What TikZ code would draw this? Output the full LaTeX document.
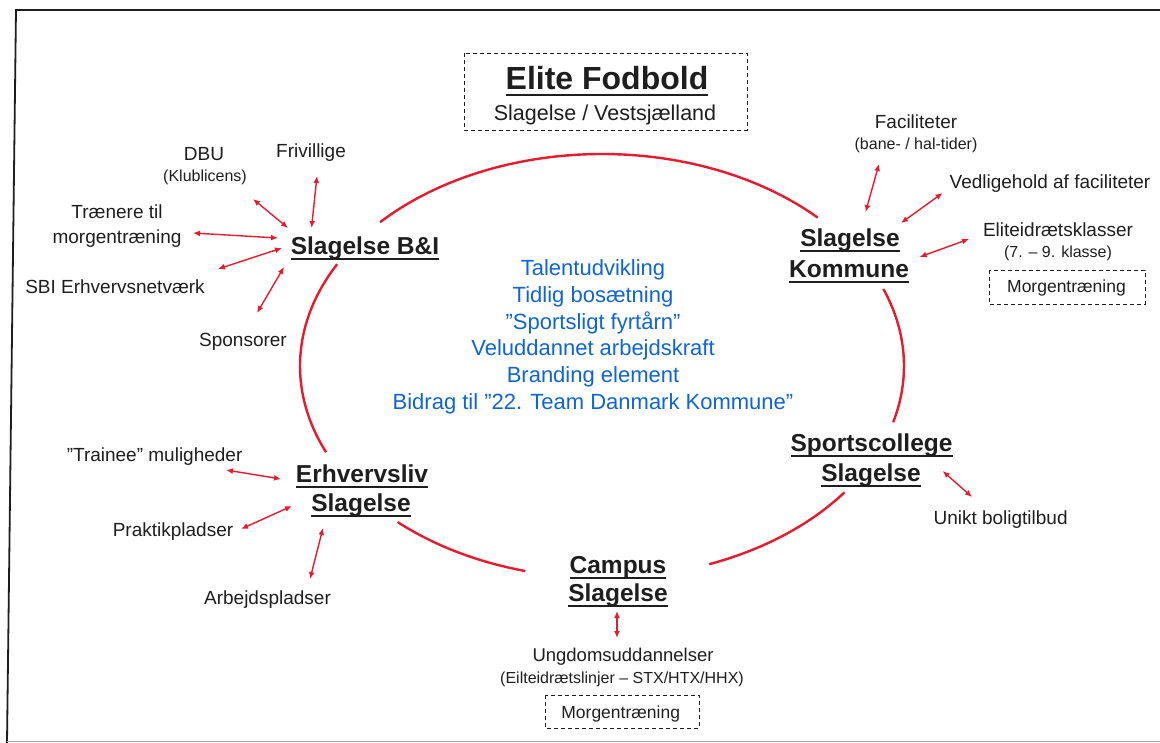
\documentclass[tikz,border=0pt]{standalone}
\usepackage{fontspec}
\setmainfont{Liberation Sans}
\usetikzlibrary{arrows.meta}
\definecolor{ringred}{RGB}{232,26,46}
\definecolor{txtblue}{RGB}{15,100,215}
\definecolor{ink}{RGB}{30,30,30}
\newsavebox\hubbox
\newcommand\hubul[2][1.6pt]{\sbox\hubbox{#2}\rlap{\usebox\hubbox}\rule[-5pt]{\wd\hubbox}{#1}}
\newcommand\titleul[1]{\sbox\hubbox{#1}\rlap{\usebox\hubbox}\rule[-7pt]{\wd\hubbox}{2pt}}
\tikzset{
  hubtxt/.style={font=\fontsize{24.5}{28}\selectfont\bfseries, text=ink, inner sep=0pt, text height=17.5pt, text depth=0pt},
  lbl/.style={font=\fontsize{19}{22}\selectfont, text=ink, inner sep=0pt, text height=13.6pt, text depth=0pt},
  sml/.style={font=\fontsize{16}{19}\selectfont, text=ink, inner sep=0pt, text height=11.5pt, text depth=0pt},
  bluetxt/.style={font=\fontsize{22}{25}\selectfont, text=txtblue, inner sep=0pt, text height=15.8pt, text depth=0pt},
  dashbox/.style={draw=ink, line width=0.9pt, dash pattern=on 4pt off 3pt},
  ring/.style={draw=ringred, line width=2.4pt},
  dbl/.style={draw=ringred, line width=1.4pt, {Latex[length=7pt,width=6pt]}-{Latex[length=7pt,width=6pt]}},
}
\begin{document}
\begin{tikzpicture}[x=1pt, y=-1pt]
\useasboundingbox (0,0) rectangle (1160,743);
% frame
\draw[ink, line width=1.8pt] (1160,10) -- (16,10) -- (7,743);
\draw[black!35, line width=0.8pt] (7,741) -- (1160,741);

% title
\draw[dashbox] (464,53) rectangle (747,130);
\node[font=\fontsize{32}{36}\selectfont\bfseries, text=ink, inner sep=0pt, text height=23pt, text depth=0pt] (title) at (607,78) {\titleul{Elite Fodbold}};
\node[font=\fontsize{21.5}{25}\selectfont, text=ink, inner sep=0pt, text height=15.4pt, text depth=0pt] (subtitle) at (605,113) {Slagelse / Vestsjælland};

% ring
\coordinate (ringc) at (602,366);
\draw[ring] ([shift={(-137.3:302 and 212)}]ringc) arc[start angle=-137.3, end angle=-44.4, x radius=302, y radius=212];
\draw[ring] ([shift={(-204:302 and 212)}]ringc) arc[start angle=-204, end angle=-151.3, x radius=302, y radius=212];
\draw[ring] ([shift={(-255.3:302 and 212)}]ringc) arc[start angle=-255.3, end angle=-227.4, x radius=302, y radius=212];
\draw[ring] ([shift={(-323.4:302 and 212)}]ringc) arc[start angle=-323.4, end angle=-290.8, x radius=302, y radius=212];
\draw[ring] ([shift={(-381.3:302 and 212)}]ringc) arc[start angle=-381.3, end angle=-344.6, x radius=302, y radius=212];

% hubs
\node[hubtxt] (bi) at (365,246) {\hubul{Slagelse B\&I}};
\node[hubtxt] (kom1) at (850,238) {\hubul{Slagelse}};
\node[hubtxt] (kom2) at (849,269) {\hubul{Kommune}};
\node[hubtxt] (erh1) at (362,474) {\hubul{Erhvervsliv}};
\node[hubtxt] (erh2) at (361,503) {\hubul{Slagelse}};
\node[hubtxt] (sc1) at (871.5,443) {\hubul{Sportscollege}};
\node[hubtxt] (sc2) at (871,473) {\hubul{Slagelse}};
\node[hubtxt] (cam1) at (618,565) {\hubul{Campus}};
\node[hubtxt] (cam2) at (618,593) {\hubul{Slagelse}};

% centre text
\node[bluetxt] (v1) at (593,268) {Talentudvikling};
\node[bluetxt] (v2) at (593,294.7) {Tidlig bosætning};
\node[bluetxt] (v3) at (593,321.4) {”Sportsligt fyrtårn”};
\node[bluetxt] (v4) at (593,348.1) {Veluddannet arbejdskraft};
\node[bluetxt] (v5) at (593,374.8) {Branding element};
\node[bluetxt] (v6) at (593,401.5) {Bidrag til ”22. Team Danmark Kommune”};

% Slagelse B&I satellites
\node[lbl] (dbu) at (204,154) {DBU};
\node[sml] (dbu2) at (205,176) {(Klublicens)};
\node[lbl] (friv) at (311,151) {Frivillige};
\node[lbl] (tr1) at (117,212) {Trænere til};
\node[lbl] (tr2) at (117,237) {morgentræning};
\node[lbl] (sbi) at (115,287) {SBI Erhvervsnetværk};
\node[lbl] (spon) at (243,340) {Sponsorer};
\coordinate (a1s) at (253,199); \coordinate (a1e) at (288,228);
\coordinate (a2s) at (317,176); \coordinate (a2e) at (311.5,228);
\coordinate (a3s) at (193,233); \coordinate (a3e) at (278,238);
\coordinate (a4s) at (218,269); \coordinate (a4e) at (282,248);
\coordinate (a5s) at (257,313); \coordinate (a5e) at (284,267);
\draw[dbl] (a1s) -- (a1e);
\draw[dbl] (a2s) -- (a2e);
\draw[dbl] (a3s) -- (a3e);
\draw[dbl] (a4s) -- (a4e);
\draw[dbl] (a5s) -- (a5e);

% Kommune satellites
\node[lbl] (fac) at (916,122) {Faciliteter};
\node[sml] (fac2) at (916,144) {(bane- / hal-tider)};
\node[lbl] (ved) at (1050,182) {Vedligehold af faciliteter};
\node[lbl] (eli) at (1058,230) {Eliteidrætsklasser};
\node[sml] (eli2) at (1058,252) {(7. -- 9. klasse)};
\draw[dashbox] (989,270) rectangle (1145,304);
\node[font=\fontsize{17.5}{20}\selectfont, text=ink, inner sep=0pt, text height=12.5pt, text depth=0pt] (morg1) at (1066.5,286) {Morgentræning};
\coordinate (b1s) at (879,164); \coordinate (b1e) at (865.6,212);
\coordinate (b2s) at (942.6,193); \coordinate (b2e) at (901,223);
\coordinate (b3s) at (969,239); \coordinate (b3e) at (919.6,257);
\draw[dbl] (b1s) -- (b1e);
\draw[dbl] (b2s) -- (b2e);
\draw[dbl] (b3s) -- (b3e);

% Erhvervsliv satellites
\node[lbl] (trn) at (154.6,455) {”Trainee” muligheder};
\node[lbl] (prak) at (173,530) {Praktikpladser};
\node[lbl] (arb) at (267.5,598) {Arbejdspladser};
\coordinate (c1s) at (226,470); \coordinate (c1e) at (281,479);
\coordinate (c2s) at (241,529); \coordinate (c2e) at (292,506);
\coordinate (c3s) at (310,579); \coordinate (c3e) at (323,528);
\draw[dbl] (c1s) -- (c1e);
\draw[dbl] (c2s) -- (c2e);
\draw[dbl] (c3s) -- (c3e);

% Sportscollege satellite
\node[lbl] (uni) at (1000.6,518) {Unikt boligtilbud};
\coordinate (d1s) at (942.6,471); \coordinate (d1e) at (972,497);
\draw[dbl] (d1s) -- (d1e);

% Campus satellites
\node[font=\fontsize{18.5}{22}\selectfont, text=ink, inner sep=0pt, text height=13.3pt, text depth=0pt] (ung) at (623,655) {Ungdomsuddannelser};
\node[sml] (ung2) at (622,678) {(Eilteidrætslinjer -- STX/HTX/HHX)};
\draw[dashbox] (545,695) rectangle (699,728);
\node[font=\fontsize{17.5}{20}\selectfont, text=ink, inner sep=0pt, text height=12.5pt, text depth=0pt] (morg2) at (620.7,712) {Morgentræning};
\coordinate (e1s) at (617,611); \coordinate (e1e) at (617,638);
\draw[dbl] (e1s) -- (e1e);
\end{tikzpicture}
\end{document}
